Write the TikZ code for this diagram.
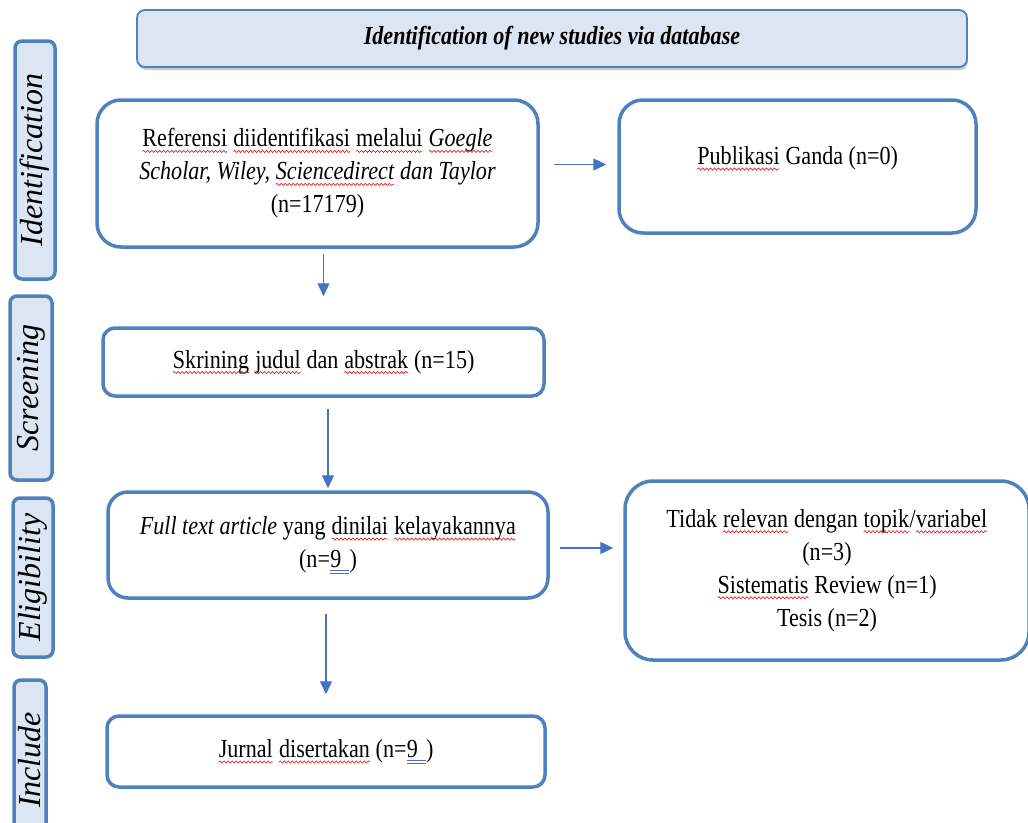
\documentclass[tikz,border=0pt]{standalone}
\usepackage{fontspec}
\setmainfont{Liberation Serif}[FakeStretch=0.85]
\newfontfamily\sidefont{Liberation Serif}
\usepackage{tikz}
\usetikzlibrary{positioning,arrows.meta,shadows,decorations.pathmorphing}
\definecolor{p_line}{HTML}{4F81BD}
\definecolor{p_fill}{HTML}{DCE6F2}
\definecolor{p_arrow}{HTML}{4472C4}
\definecolor{p_red}{HTML}{E02828}
\tikzset{plain/.style={draw=none,fill=none,inner sep=0pt,outer sep=0pt,
    minimum width=0pt,minimum height=0pt,sharp corners,align=left}}
% spell-check marks under words
\newcommand{\typo}[1]{\tikz[baseline=(w.base)]{\node[plain] (w) {#1};
    \draw[p_red,sharp corners,line width=0.7pt,decorate,decoration={snake,amplitude=1.1pt,segment length=4pt}]
    ([yshift=-4.5pt]w.base west) -- ([yshift=-4.5pt]w.base east);}}
\newcommand{\gram}[1]{\tikz[baseline=(g.base)]{\node[plain] (g) {#1};
    \draw[p_arrow,sharp corners,line width=0.7pt] ([yshift=-3pt]g.base west) -- ([yshift=-3pt]g.base east)
    ([yshift=-5.5pt]g.base west) -- ([yshift=-5.5pt]g.base east);}}

\begin{document}
\begin{tikzpicture}[
        x=1pt, y=-1pt,
        box/.style={draw=p_line, line width=3.5pt, fill=white, rounded corners=#1,
            inner sep=0pt, align=center, font=\fontsize{26}{33}\selectfont},
        box/.default=14pt,
        txt/.style={align=center, font=\fontsize{26}{33}\selectfont},
        side/.style={draw=p_line, line width=3.5pt, fill=p_fill, rounded corners=7pt,
            inner sep=0pt, rotate=90, font=\sidefont\itshape\fontsize{32}{36}\selectfont},
        head/.style={draw=p_line, line width=1.8pt, fill=p_fill, rounded corners=8pt,
            font=\fontsize{26}{33}\selectfont\bfseries\itshape,
            drop shadow={shadow xshift=1pt, shadow yshift=-3pt, opacity=0.35, fill=black!60}},
        arrow/.style={-{Triangle[length=13pt,width=12pt]}, draw=p_arrow, line width=1.3pt}
    ]
    \useasboundingbox (0,0) rectangle (1028,822);

    % header
    \node[head, minimum width=830pt, minimum height=57pt] (title) at (552,38.5)
        {Identification of new studies via database};

    % phases
    \node[side, minimum width=238pt, minimum height=40pt] (sideid) at (35,160) {Identification};
    \node[side, minimum width=184pt, minimum height=42pt] (sidescr) at (31,388) {Screening};
    \node[side, minimum width=159pt, minimum height=40pt] (sideel) at (33,577.5) {Eligibility};
    \node[side, minimum width=160pt, minimum height=32pt] (sideinc) at (30,760) {Include};

    % boxes
    \node[box=24pt, minimum width=441pt, minimum height=147pt] (ref) at (317.5,173.5)
        {\typo{Referensi} \typo{diidentifikasi} \typo{melalui} \textit{\typo{Goegle}}\\
         \textit{Scholar, Wiley, \typo{Sciencedirect} dan Taylor}\\
         (n=17179)};
    \node[box=24pt, minimum width=357pt, minimum height=133pt] (pub) at (797.5,166.5) {};
    \node[txt] (pubtxt) at ([yshift=8pt]pub.center) {\typo{Publikasi} Ganda (n=0)};
    \node[box=12pt, minimum width=441pt, minimum height=68pt] (skr) at (323.5,362)
        {\typo{Skrining} \typo{judul} dan \typo{abstrak} (n=15)};
    \node[box=20pt, minimum width=440pt, minimum height=106pt] (full) at (328,545)
        {\textit{Full text article} yang \typo{dinilai} \typo{kelayakannya}\\
         (n=\gram{9\hspace{.3em}})};
    \node[box=28pt, minimum width=404pt, minimum height=179pt] (excl) at (827,570.5)
        {Tidak \typo{relevan} dengan \typo{topik}/\typo{variabel}\\
         (n=3)\\
         \typo{Sistematis} Review (n=1)\\
         Tesis (n=2)};
    \node[box=12pt, minimum width=438pt, minimum height=71pt] (inc) at (326,751.5)
        {\typo{Jurnal} \typo{disertakan} (n=\gram{9\hspace{.3em}})};

    % arrows
    \draw[arrow, shorten <=14pt, shorten >=11pt] ([yshift=2pt]ref.east |- pub.west) -- ([yshift=2pt]pub.west);
    \draw[arrow, shorten <=5pt, shorten >=30pt] (ref.south -| skr.north) -- (skr.north);
    \draw[arrow, shorten <=11pt, shorten >=2pt] (skr.south -| full.north) -- (full.north);
    \draw[arrow, shorten <=10pt, shorten >=10pt] ([yshift=-3pt]full.east) -- ([yshift=-3pt]full.east -| excl.west);
    \draw[arrow, shorten <=14pt, shorten >=20pt] (full.south -| inc.north) -- (inc.north);
\end{tikzpicture}
\end{document}
